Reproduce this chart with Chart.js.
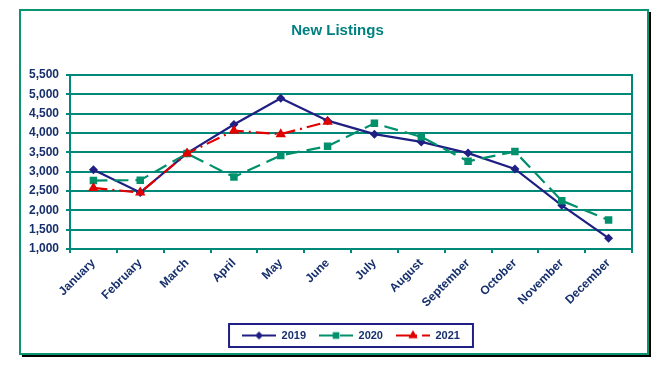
<!DOCTYPE html>
<html><head><meta charset="utf-8">
<script src="https://cdn.jsdelivr.net/npm/chart.js@4.4.1/dist/chart.umd.min.js"></script>
<style>html,body{margin:0;padding:0;background:#fff;}#wrap{width:664px;height:383px;position:relative;}</style>
</head><body><div id="wrap"><canvas id="c" width="664" height="383"></canvas></div>
<script>
const TITLE = 'New Listings';
const months = ['January','February','March','April','May','June','July','August','September','October','November','December'];
const seriesNames = ['2019','2020','2021'];
const s2019 = [3050, 2460, 3480, 4220, 4900, 4320, 3970, 3770, 3480, 3070, 2130, 1280];
const s2020 = [2770, 2780, 3470, 2860, 3420, 3660, 4250, 3900, 3270, 3520, 2250, 1750];
const s2021 = [2580, 2460, 3470, 4060, 3970, 4290, null, null, null, null, null, null];
const yMin = 1000, yMax = 5500, yStep = 500;

const NAVY = '#1f1f84', GREEN = '#00906c', RED = '#e00000';
const GRID = '#008878', LABEL = '#17306c', TITLEC = '#008080';
const FONT = '"Liberation Sans", Arial, sans-serif';

const styles = [
  {color: NAVY, dash: [], point: 'rectRot', r: 4.5},
  {color: GREEN, dash: [14, 7], point: 'rect', r: 5.3},
  {color: RED, dash: [14, 5, 2, 5], point: 'triangle', r: 6}
];

function icon(st) {
  const cv = document.createElement('canvas');
  cv.width = 34; cv.height = 12;
  const c = cv.getContext('2d');
  c.strokeStyle = st.color; c.lineWidth = 2; c.setLineDash(st.dash);
  c.beginPath(); c.moveTo(0, 6); c.lineTo(34, 6); c.stroke();
  c.setLineDash([]);
  c.fillStyle = st.color;
  Chart.helpers.drawPoint(c, {pointStyle: st.point, radius: st.r * 0.85, rotation: 0, borderWidth: 0}, 17, 6);
  c.fill();
  return cv;
}

const frame = {
  id: 'frame',
  beforeDraw(chart) {
    const ctx = chart.ctx;
    ctx.save();
    ctx.fillStyle = '#fff'; ctx.fillRect(0, 0, chart.width, chart.height);
    ctx.strokeStyle = '#000'; ctx.lineWidth = 2;
    ctx.beginPath(); ctx.moveTo(650, 12); ctx.lineTo(650, 356); ctx.lineTo(22, 356); ctx.stroke();
    ctx.strokeStyle = '#0b9472'; ctx.lineWidth = 2;
    ctx.strokeRect(20, 10, 628, 344);
    ctx.restore();
  },
  beforeDatasetsDraw(chart) {
    const a = chart.chartArea, ctx = chart.ctx;
    ctx.save(); ctx.strokeStyle = GRID; ctx.lineWidth = 2;
    ctx.strokeRect(a.left, a.top, a.right - a.left, a.bottom - a.top);
    ctx.restore();
  },
  afterDraw(chart) {
    const ctx = chart.ctx;
    ctx.save();
    ctx.font = 'bold 15px ' + FONT; ctx.fillStyle = TITLEC;
    ctx.textAlign = 'center'; ctx.textBaseline = 'middle';
    ctx.fillText(TITLE, 337.5, 31);
    const hb = chart.legend.legendHitBoxes;
    if (hb && hb.length) {
      let l = Infinity, r = -Infinity;
      hb.forEach(h => { l = Math.min(l, h.left); r = Math.max(r, h.left + h.width); });
      const cy = hb[0].top + hb[0].height / 2;
      ctx.strokeStyle = NAVY; ctx.lineWidth = 2;
      ctx.strokeRect(l - 13, cy - 11.5, r - l + 26, 23);
    }
    ctx.restore();
  }
};

const seriesData = [s2019, s2020, s2021];
const datasets = seriesData.map((d, i) => ({
  label: seriesNames[i], data: d,
  borderColor: styles[i].color, backgroundColor: styles[i].color,
  borderWidth: 2.2, borderDash: styles[i].dash,
  pointStyle: styles[i].point, pointRadius: styles[i].r,
  pointBorderWidth: 0, pointBackgroundColor: styles[i].color,
  tension: 0, spanGaps: false, order: 3 - i
}));

new Chart(document.getElementById('c'), {
  type: 'line',
  data: {labels: months, datasets},
  plugins: [frame],
  options: {
    responsive: false, animation: false, devicePixelRatio: 1,
    layout: {padding: {left: 20, right: 32, top: 75, bottom: 32}},
    plugins: {
      title: {display: false}, tooltip: {enabled: false},
      legend: {
        position: 'bottom', fullSize: false,
        labels: {
          usePointStyle: true, pointStyleWidth: 34, padding: 13,
          color: LABEL, font: {family: FONT, size: 11, weight: 'bold'},
          generateLabels: (chart) => chart.data.datasets.map((ds, i) => ({
            text: ds.label, pointStyle: icon(styles[i]), fillStyle: styles[i].color,
            strokeStyle: styles[i].color, lineWidth: 0, hidden: false, datasetIndex: i, fontColor: LABEL
          }))
        }
      }
    },
    scales: {
      x: {
        offset: true,
        grid: {offset: true, drawOnChartArea: false, drawTicks: true, tickLength: 4, color: GRID, lineWidth: 2},
        border: {display: true, color: GRID, width: 2},
        ticks: {maxRotation: 45, minRotation: 45, autoSkip: false, padding: 3, color: LABEL, font: {family: FONT, size: 12, weight: 'bold'}},
        afterFit: (s) => { s.height = 68; }
      },
      y: {
        min: yMin, max: yMax,
        grid: {color: GRID, lineWidth: 2, drawTicks: true, tickLength: 4},
        border: {display: true, color: GRID, width: 2},
        ticks: {stepSize: yStep, padding: 7, color: LABEL, font: {family: FONT, size: 12, weight: 'bold'},
          callback: (v) => Number(v).toLocaleString('en-US')},
        afterFit: (s) => { s.width = 50; }
      }
    }
  }
});
</script>
</body></html>
